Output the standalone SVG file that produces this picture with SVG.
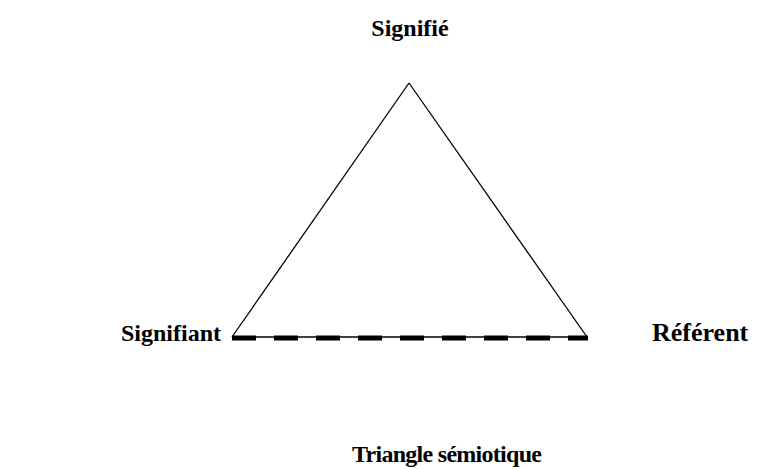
<svg xmlns="http://www.w3.org/2000/svg" width="768" height="469" viewBox="0 0 768 469">
<style>
.lbl{font-family:"Liberation Serif","Times New Roman",serif;font-weight:bold;font-size:24px;fill:#000}
.big{font-size:26px}
.edge{stroke:#000;stroke-width:1.3;fill:none}
.dash{stroke:#000;stroke-width:5;stroke-dasharray:24 18;fill:none}
</style>
<rect width="768" height="469" fill="#fff"/>
<g id="connectors">
<line class="edge" x1="409" y1="83" x2="232" y2="337"/>
<line class="edge" x1="409" y1="83" x2="587" y2="337"/>
<line class="edge" x1="232" y1="337" x2="587" y2="337"/>
<line class="dash" x1="232" y1="338" x2="588" y2="338"/>
</g>
<g id="signifie"><text class="lbl" x="410" y="36" text-anchor="middle">Signifié</text></g>
<g id="signifiant"><text class="lbl" x="121" y="341">Signifiant</text></g>
<g id="referent"><text class="lbl big" x="652" y="341">Référent</text></g>
<g id="caption"><text class="lbl" x="447" y="462" text-anchor="middle" textLength="190" lengthAdjust="spacing">Triangle sémiotique</text></g>
</svg>
